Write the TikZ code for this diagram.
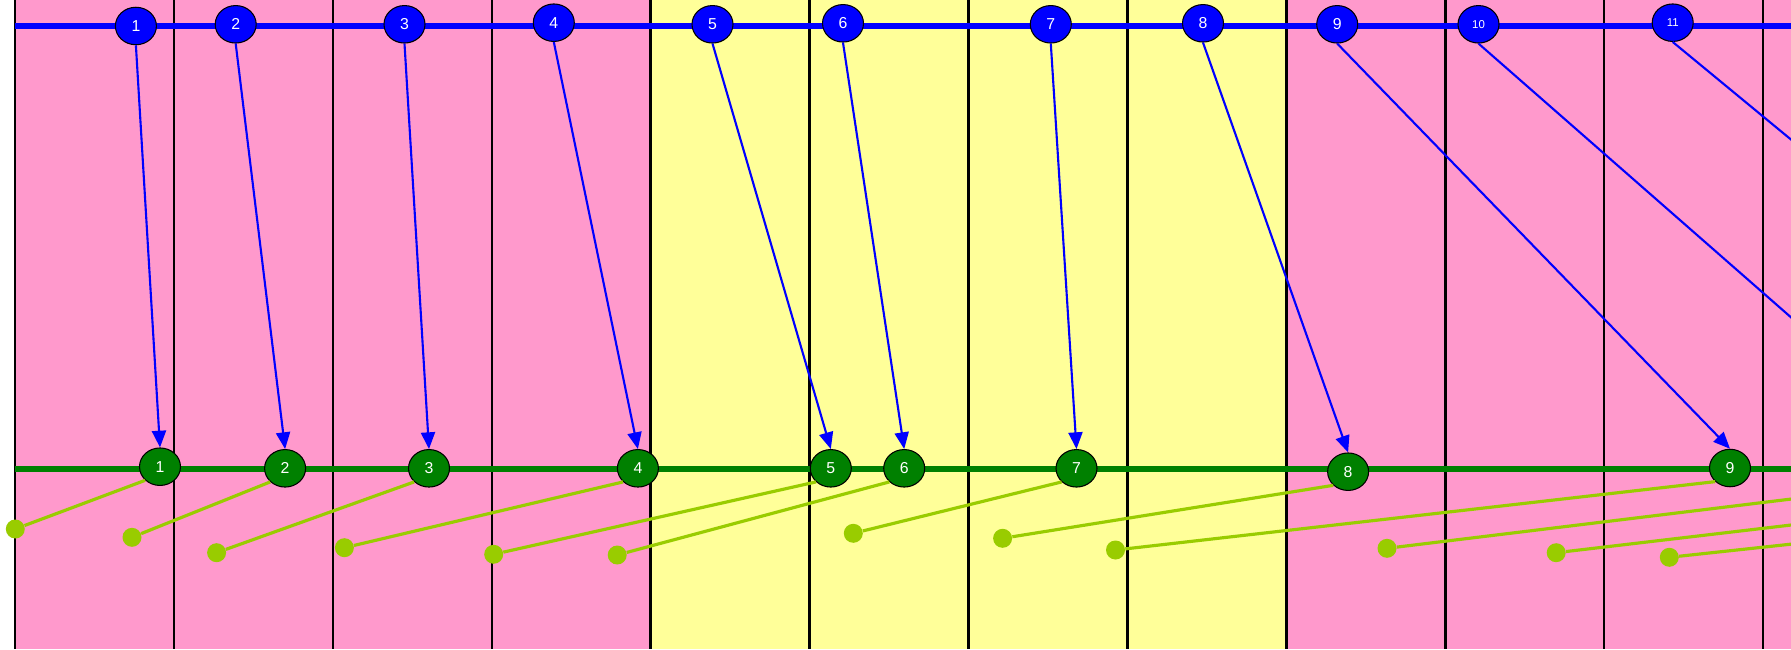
\documentclass[tikz,border=0pt]{standalone}
\usepackage{fontspec}
\setmainfont{Liberation Sans}
\usetikzlibrary{arrows.meta, shapes.geometric}

\definecolor{pinkbg}{HTML}{FF99CC}
\definecolor{yellowbg}{HTML}{FFFF99}
\definecolor{lanegreen}{HTML}{008000}
\definecolor{dotgreen}{HTML}{99CC00}

\tikzset{
  src/.style={ellipse, draw=black, line width=0.6pt, fill=blue, text=white,
    minimum width=0.82cm, minimum height=0.75cm, inner sep=0pt,
    font=\fontsize{9}{9}\selectfont},
  dst/.style={src, fill=lanegreen},
  tail/.style={circle, fill=dotgreen, minimum size=0.38cm, inner sep=0pt},
  move/.style={draw=blue, line width=1.2pt, -{Triangle[length=9.5pt,width=8pt]}},
  link/.style={draw=dotgreen, line width=1.8pt},
}

\begin{document}
\begin{tikzpicture}[x=0.02cm, y=-0.02cm]
\useasboundingbox (0,0) rectangle (1791,649);
\clip (0,0) rectangle (1791,649);
% columns
\fill[white] (0,0) rectangle (1791,649);
\fill[pinkbg] (14.8,0) rectangle (651,649);
\fill[yellowbg] (651,0) rectangle (1287.3,649);
\fill[pinkbg] (1287.3,0) rectangle (1791,649);
\foreach \k in {0,...,11}
  \draw[line width=1.3pt] ({14.8+158.95*\k},0) -- ({14.8+158.95*\k},649);
% lanes
\draw[blue, line width=3pt] (14.8,26) -- (1791,26);
\draw[lanegreen, line width=3pt] (14.8,469) -- (1791,469);
% top row
\foreach \n / \x / \y in {1/135.9/26, 2/235.7/24.3, 3/404.5/24.3, 4/553.8/22.7,
  5/712.5/24.3, 6/843/23.3, 7/1050.8/24.3, 8/1203/23.3, 9/1337.2/24.3}
  \node[src] (b\n) at (\x,\y) {\n};
\node[src, font=\fontsize{6.5}{6.5}\selectfont] (b10) at (1478.5,24.3) {10};
\node[src, font=\fontsize{6.5}{6.5}\selectfont] (b11) at (1672.7,22.7) {11};
% bottom row
\foreach \n / \x / \y in {1/160/466.7, 2/285.1/468.3, 3/429/468.3, 4/637.9/468.3,
  5/830.8/468.3, 6/904.2/468.3, 7/1076.5/468.3, 8/1348.1/471.7, 9/1730/468}
  \node[dst] (g\n) at (\x,\y) {\n};
% off the right edge
\coordinate (n10) at (1943,450.5);
\coordinate (n11) at (2168,450.5);
\coordinate (w10) at (1928.5,482.3);
\coordinate (w11) at (2153.5,482.3);
\coordinate (w12) at (2363.5,482.3);
% tails
\foreach \n / \x / \y in {1/15.3/529, 2/132/537.3, 3/216.6/552.7, 4/344.4/547.7,
  5/493.7/554.3, 6/617.2/555, 7/853.3/533.3, 8/1002.6/538.3, 9/1115.5/550,
  10/1387/548.3, 11/1556.2/552.7, 12/1669.3/557.3}
  \node[tail] (d\n) at (\x,\y) {};
% connectors
\foreach \n in {1,...,9}
  \draw[move] (b\n.south) -- (g\n.north);
\draw[move] (b10.south) -- (n10);
\draw[move] (b11.south) -- (n11);
\foreach \n in {1,...,9}
  \draw[link] (g\n.south west) -- (d\n);
\foreach \n in {10,11,12}
  \draw[link] (w\n) -- (d\n);
\end{tikzpicture}
\end{document}
